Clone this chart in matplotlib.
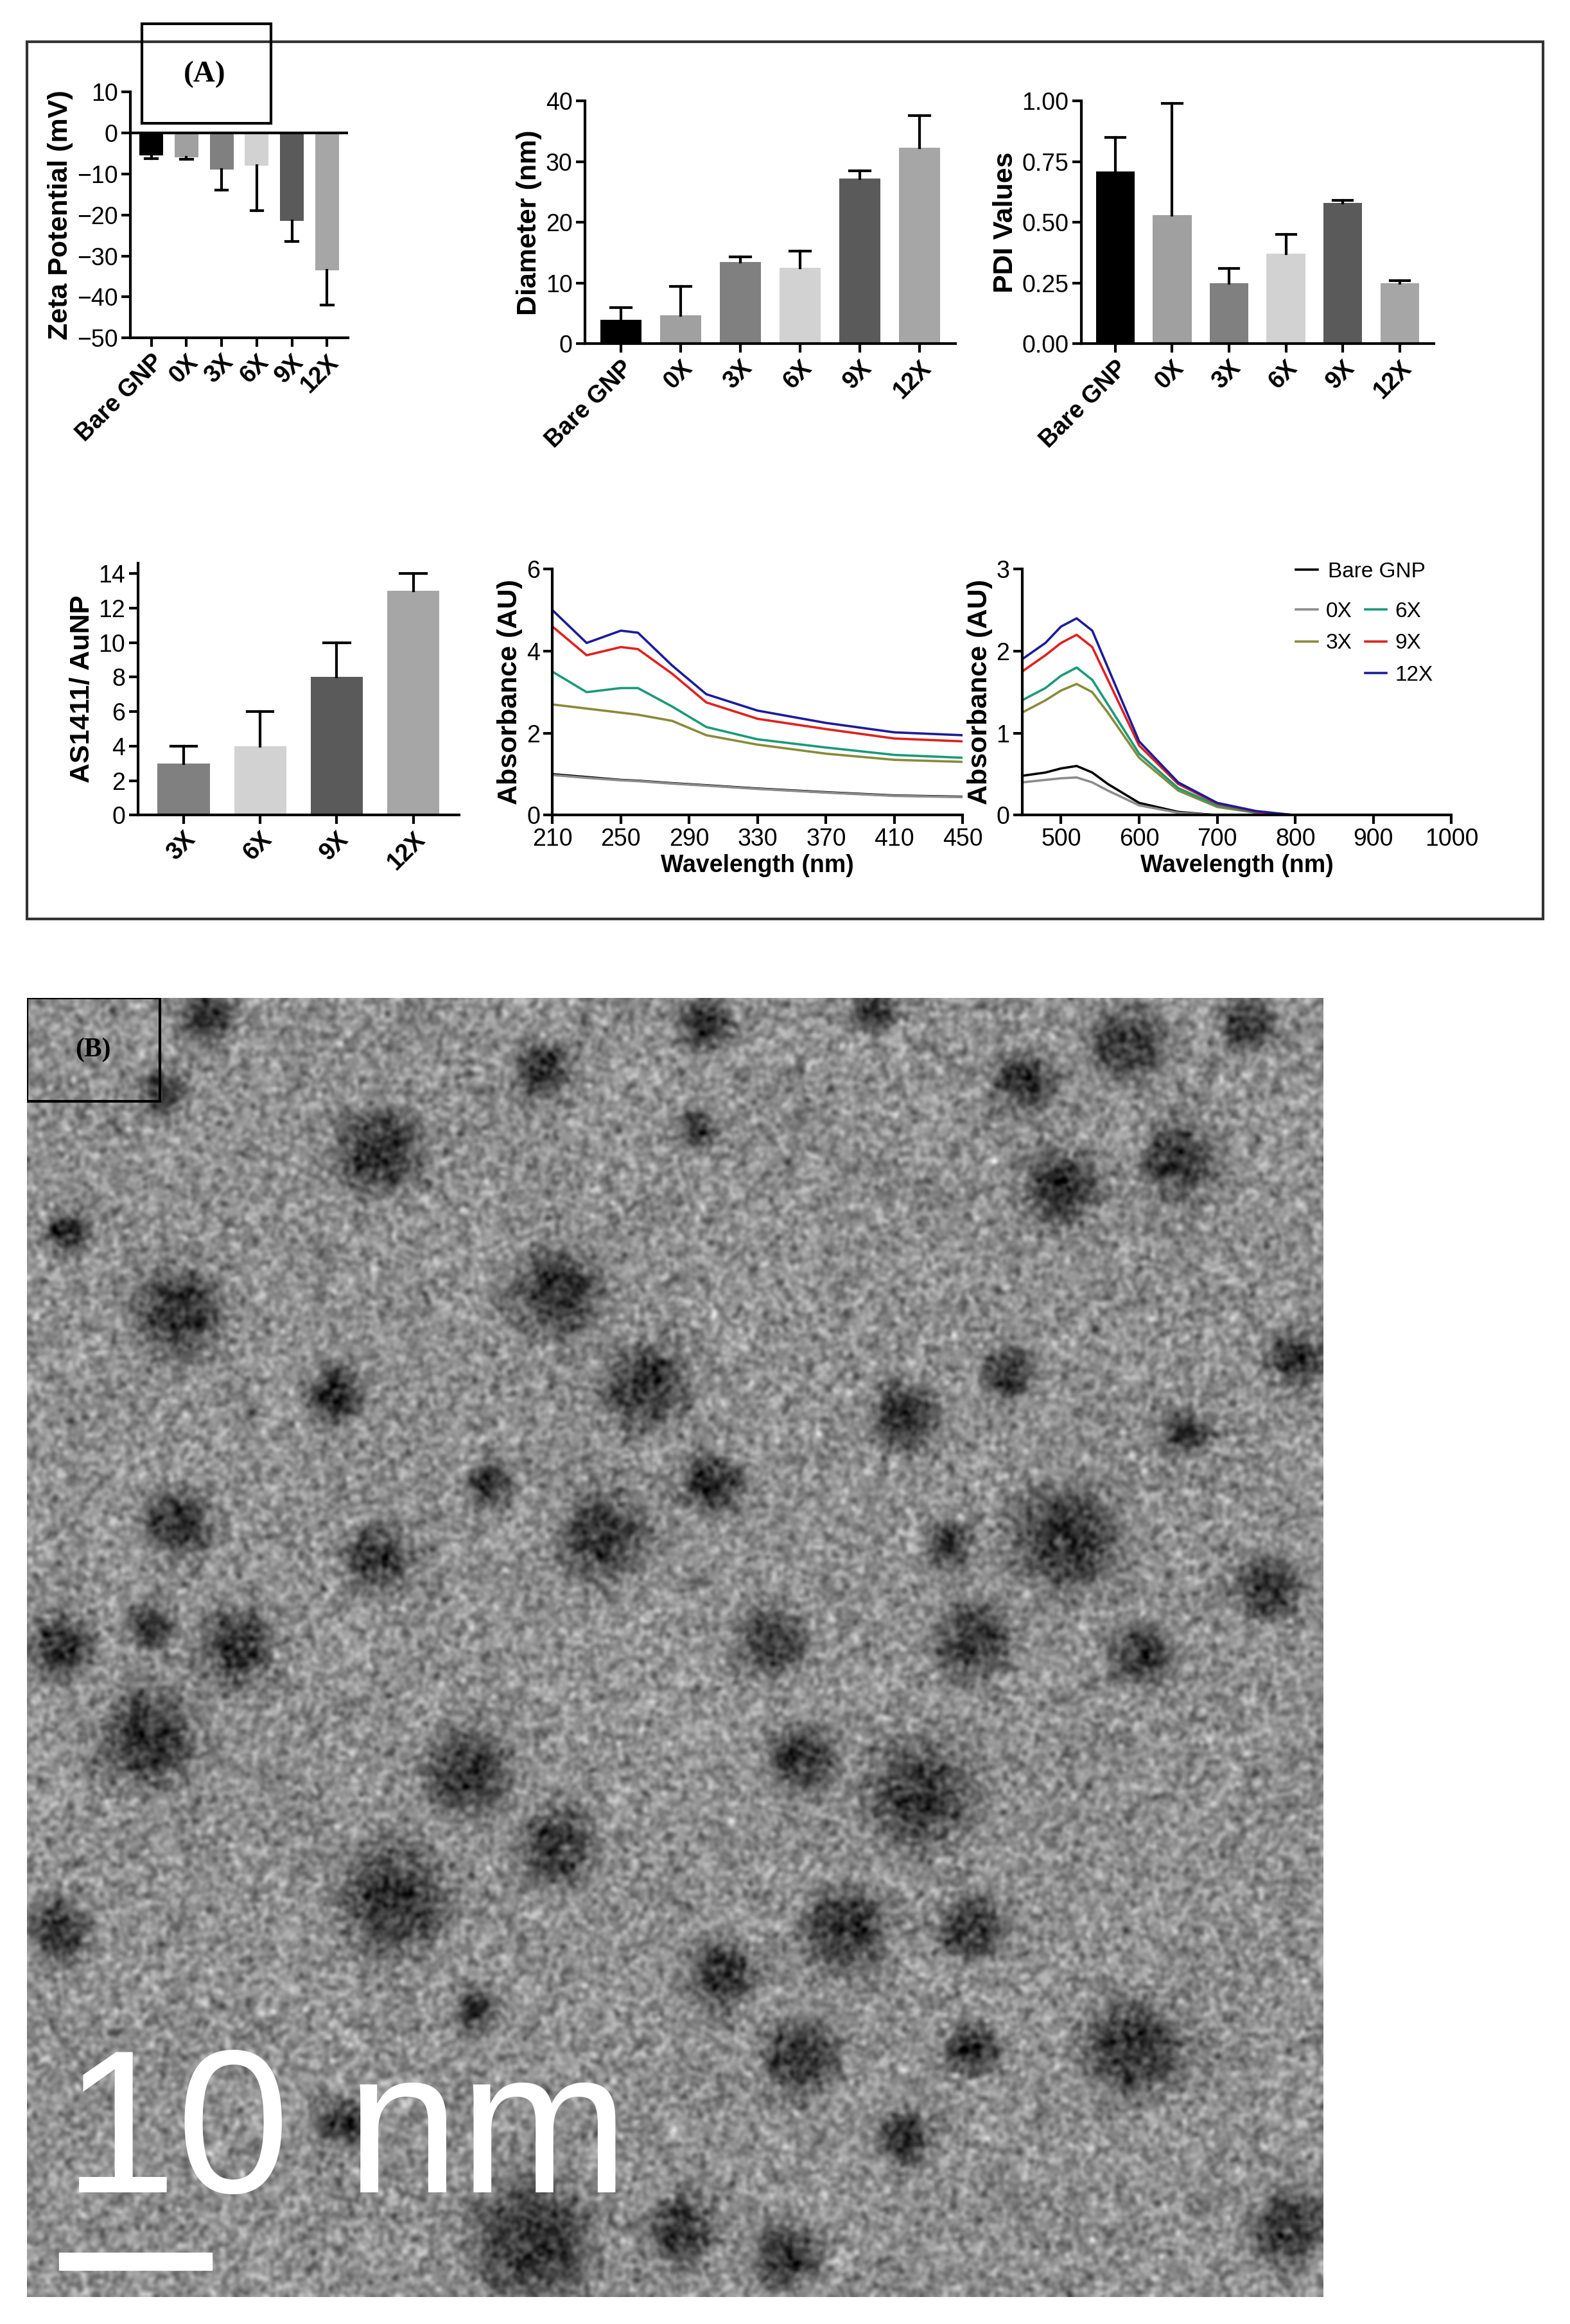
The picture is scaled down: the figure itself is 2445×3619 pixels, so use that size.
import numpy as np
import matplotlib
matplotlib.use("Agg")
import matplotlib.pyplot as plt
from matplotlib.patches import Rectangle
from matplotlib.lines import Line2D

plt.rcParams['font.family'] = ['Liberation Sans', 'DejaVu Sans']

# ---------------- data ----------------
groups6 = ["Bare GNP", "0X", "3X", "6X", "9X", "12X"]
bar_colors6 = ["#000000", "#a0a0a0", "#808080", "#d2d2d2", "#5a5a5a", "#a6a6a6"]
zeta = [-5.5, -6.0, -9.0, -8.0, -21.5, -33.5]
zeta_err = [0.8, 0.5, 5.0, 11.0, 5.0, 8.5]
diam = [4.0, 4.7, 13.5, 12.5, 27.2, 32.3]
diam_err = [2.0, 4.8, 0.8, 2.8, 1.3, 5.3]
pdi = [0.71, 0.53, 0.25, 0.37, 0.58, 0.25]
pdi_err = [0.14, 0.46, 0.06, 0.08, 0.01, 0.01]
groups4 = ["3X", "6X", "9X", "12X"]
bar_colors4 = ["#808080", "#d2d2d2", "#5a5a5a", "#a6a6a6"]
apt = [3.0, 4.0, 8.0, 13.0]
apt_err = [1.0, 2.0, 2.0, 1.0]

series = ["Bare GNP", "0X", "3X", "6X", "9X", "12X"]
line_colors = ["#000000", "#8c8c8c", "#8a8a3a", "#1a9a7a", "#e0201e", "#1c1c9a"]

wl_uv = [210, 230, 250, 260, 280, 300, 330, 370, 410, 450]
abs_uv = {
    "Bare GNP": [1.00, 0.93, 0.86, 0.84, 0.78, 0.73, 0.65, 0.56, 0.48, 0.45],
    "0X":       [0.98, 0.91, 0.85, 0.83, 0.77, 0.72, 0.64, 0.55, 0.47, 0.44],
    "3X":       [2.70, 2.60, 2.50, 2.45, 2.30, 1.95, 1.72, 1.50, 1.35, 1.30],
    "6X":       [3.50, 3.00, 3.10, 3.10, 2.65, 2.15, 1.85, 1.65, 1.47, 1.40],
    "9X":       [4.60, 3.90, 4.10, 4.05, 3.45, 2.75, 2.35, 2.10, 1.87, 1.80],
    "12X":      [5.00, 4.20, 4.50, 4.45, 3.65, 2.95, 2.55, 2.25, 2.02, 1.95],
}
wl_vis = [450, 480, 500, 520, 540, 560, 600, 650, 700, 750, 800, 900, 1000]
abs_vis = {
    "Bare GNP": [0.48, 0.52, 0.57, 0.60, 0.52, 0.38, 0.15, 0.04, 0.00, 0.00, 0.00, 0.00, 0.00],
    "0X":       [0.40, 0.43, 0.45, 0.46, 0.40, 0.30, 0.12, 0.03, 0.00, 0.00, 0.00, 0.00, 0.00],
    "3X":       [1.25, 1.40, 1.52, 1.60, 1.50, 1.25, 0.70, 0.30, 0.10, 0.03, 0.00, 0.00, 0.00],
    "6X":       [1.40, 1.55, 1.70, 1.80, 1.65, 1.35, 0.75, 0.33, 0.12, 0.03, 0.00, 0.00, 0.00],
    "9X":       [1.75, 1.95, 2.10, 2.20, 2.05, 1.65, 0.85, 0.38, 0.14, 0.04, 0.00, 0.00, 0.00],
    "12X":      [1.90, 2.10, 2.30, 2.40, 2.25, 1.80, 0.90, 0.40, 0.15, 0.05, 0.00, 0.00, 0.00],
}

# TEM particles: (x, y, radius) in reference display units
particles = [(140,685,18),(255,775,30),(365,720,18),(475,690,18),(470,760,12),(120,885,28),
             (375,870,30),(435,935,28),(225,940,20),(330,1000,15),(120,1025,22),(255,1050,22),
             (405,1035,28),(480,1000,20),(610,955,22),(680,925,18),(715,800,25),(795,780,25),
             (760,705,25),(690,730,20),(840,690,18),(875,915,20),(800,965,15),(720,1035,35),
             (640,1040,15),(855,1070,22),(160,1110,25),(100,1095,15),(40,1110,20),(520,1105,22),
             (655,1105,25),(770,1115,20),(100,1170,32),(315,1195,28),(375,1245,25),(540,1185,22),
             (620,1210,35),(265,1280,35),(40,1300,20),(485,1330,22),(570,1300,28),(655,1300,22),
             (540,1385,25),(655,1380,18),(765,1380,33),(320,1355,15),(230,1430,18),(610,1440,18),
             (360,1510,40),(460,1500,22),(530,1520,22),(870,1500,25),(45,830,15),(590,680,15),(110,735,15)]

# ---------------- layout ----------------
W, H = 1060.0, 1568.0
fig = plt.figure(figsize=(24.45, 36.19), dpi=100)

def ax_at(x0, y0, x1, y1):
    return fig.add_axes([x0 / W, 1 - y1 / H, (x1 - x0) / W, (y1 - y0) / H])

TICK = 27
LAB = 31

def style(ax):
    ax.spines['top'].set_visible(False)
    ax.spines['right'].set_visible(False)
    for s in ('left', 'bottom'):
        ax.spines[s].set_linewidth(3)
    ax.tick_params(labelsize=TICK, width=3, length=10, pad=4)

def bars(ax, labels, vals, errs, colors, down=False):
    x = np.arange(len(labels))
    ax.bar(x, vals, width=0.68, color=colors, zorder=2)
    for xi, v, e in zip(x, vals, errs):
        end = v - e if down else v + e
        ax.plot([xi, xi], [v, end], color='black', lw=3, zorder=3)
        ax.plot([xi - 0.17, xi + 0.17], [end, end], color='black', lw=3, zorder=3)
    ax.set_xticks(x)
    ax.set_xticklabels(labels, rotation=45, ha='right', rotation_mode='anchor',
                       fontweight='bold', fontsize=TICK + 2)
    ax.set_xlim(-0.6, len(labels) - 0.4)
    style(ax)

# outer box A
fig.add_artist(Rectangle((18 / W, 1 - 620 / H), (1042 - 18) / W, (620 - 28) / H,
                         transform=fig.transFigure, fill=False, lw=3, ec='#333333'))
fig.add_artist(Rectangle((96 / W, 1 - 83 / H), (183 - 96) / W, (83 - 16) / H,
                         transform=fig.transFigure, fill=False, lw=3, ec='black'))
fig.text(138 / W, 1 - 50 / H, "(A)", fontsize=34, fontweight='bold',
         family=['Liberation Serif'], ha='center', va='center')

# panel 1 zeta
ax1 = ax_at(88, 62, 235, 228)
bars(ax1, groups6, zeta, zeta_err, bar_colors6, down=True)
ax1.axhline(0, color='black', lw=3, zorder=4)
ax1.set_ylim(-50, 10)
ax1.set_yticks([10, 0, -10, -20, -30, -40, -50])
ax1.set_ylabel("Zeta Potential (mV)", fontsize=LAB, fontweight='bold')

# panel 2 diameter
ax2 = ax_at(395, 68, 645, 232)
bars(ax2, groups6, diam, diam_err, bar_colors6)
ax2.set_ylim(0, 40)
ax2.set_yticks([0, 10, 20, 30, 40])
ax2.set_ylabel("Diameter (nm)", fontsize=LAB, fontweight='bold')

# panel 3 PDI
ax3 = ax_at(730, 68, 968, 232)
bars(ax3, groups6, pdi, pdi_err, bar_colors6)
ax3.set_ylim(0, 1.0)
ax3.set_yticks([0, 0.25, 0.5, 0.75, 1.0])
ax3.set_yticklabels(["0.00", "0.25", "0.50", "0.75", "1.00"])
ax3.set_ylabel("PDI Values", fontsize=LAB, fontweight='bold')

# panel 4 aptamer
ax4 = ax_at(93, 380, 310, 550)
bars(ax4, groups4, apt, apt_err, bar_colors4)
ax4.set_ylim(0, 14.6)
ax4.set_yticks(range(0, 15, 2))
ax4.set_ylabel("AS1411/ AuNP", fontsize=LAB, fontweight='bold')

# panel 5 UV
ax5 = ax_at(373, 384, 650, 550)
for s, c in zip(series, line_colors):
    ax5.plot(wl_uv, abs_uv[s], color=c, lw=2.6)
ax5.set_xlim(210, 450)
ax5.set_ylim(0, 6)
ax5.set_xticks(range(210, 451, 40))
ax5.set_yticks([0, 2, 4, 6])
ax5.set_xlabel("Wavelength (nm)", fontsize=TICK, fontweight='bold')
ax5.set_ylabel("Absorbance (AU)", fontsize=LAB, fontweight='bold')
style(ax5)

# panel 6 vis
ax6 = ax_at(690, 384, 980, 550)
handles = {}
for s, c in zip(series, line_colors):
    handles[s], = ax6.plot(wl_vis, abs_vis[s], color=c, lw=2.6, label=s)
ax6.set_xlim(450, 1000)
ax6.set_ylim(0, 3)
ax6.set_xticks(range(500, 1001, 100))
ax6.set_yticks([0, 1, 2, 3])
ax6.set_xlabel("Wavelength (nm)", fontsize=TICK, fontweight='bold')
ax6.set_ylabel("Absorbance (AU)", fontsize=LAB, fontweight='bold')
style(ax6)
blank = Line2D([], [], color='none')
fig.legend([handles["Bare GNP"]], ["Bare GNP"], loc='upper left', bbox_to_anchor=(862 / W, 1 - 366 / H),
           frameon=False, fontsize=24, handlelength=1.0, handletextpad=0.5)
fig.legend([handles["0X"], handles["3X"], blank, handles["6X"], handles["9X"], handles["12X"]],
           ["0X", "3X", "", "6X", "9X", "12X"], ncol=2, loc='upper left',
           bbox_to_anchor=(862 / W, 1 - 393 / H), frameon=False, fontsize=24,
           handlelength=1.0, handletextpad=0.4, columnspacing=0.6, labelspacing=0.55)

# ---------------- panel B: TEM ----------------
ix0, iy0, ix1, iy1 = 18, 673, 893, 1550
axi = ax_at(ix0, iy0, ix1, iy1)
N = 700
sx = N / (ix1 - ix0)
yy, xx = np.mgrid[0:N, 0:N]
rng = np.random.default_rng(3)
noise = rng.normal(0, 1, (N, N))
k = np.fft.fftfreq(N)
KX, KY = np.meshgrid(k, k)
filt = np.exp(-(KX**2 + KY**2) / (2 * 0.14**2))
tex = np.real(np.fft.ifft2(np.fft.fft2(noise) * filt))
tex = tex / tex.std()
img = 0.56 + 0.075 * tex
for (px, py, r) in particles:
    cx, cy, rr = (px - ix0) * sx, (py - iy0) * sx, r * sx
    d2 = (xx - cx) ** 2 + (yy - cy) ** 2
    img -= 0.36 * np.exp(-(d2 / (rr ** 2)) ** 1.5)
img = np.clip(img, 0, 1)
axi.imshow(img, cmap='gray', vmin=0, vmax=1, extent=[0, ix1 - ix0, iy1 - iy0, 0],
           interpolation='bilinear')
axi.set_xlim(0, ix1 - ix0)
axi.set_ylim(iy1 - iy0, 0)
axi.axis('off')
axi.add_patch(Rectangle((22, 847), 103, 12, color='white'))
axi.text(25, 835, "10 nm", color='white', fontsize=228, va='bottom', ha='left')
axi.add_patch(Rectangle((0, 0), 90, 70, fill=False, lw=3, ec='black'))
axi.text(45, 35, "(B)", fontsize=30, fontweight='bold', family=['Liberation Serif'],
         ha='center', va='center')

fig.savefig("out.png", dpi=100, facecolor='white')
